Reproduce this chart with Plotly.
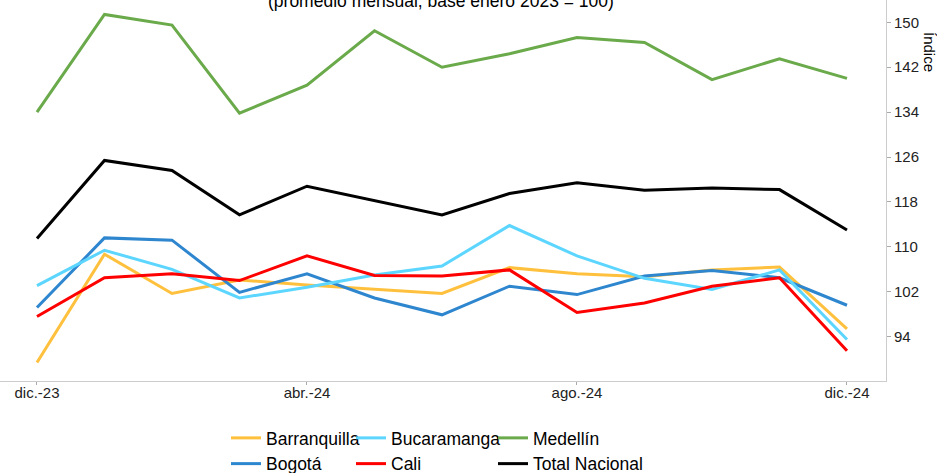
import plotly.graph_objects as go

months = ["dic.-23", "ene.-24", "feb.-24", "mar.-24", "abr.-24", "may.-24", "jun.-24",
          "jul.-24", "ago.-24", "sep.-24", "oct.-24", "nov.-24", "dic.-24"]
tick_labels = ["dic.-23", "abr.-24", "ago.-24", "dic.-24"]
y_ticks = [94, 102, 110, 118, 126, 134, 142, 150]

barranquilla = [89.4, 108.7, 101.7, 104.1, 103.2, 102.5, 101.7, 106.3, 105.2, 104.7, 105.9, 106.4, 95.4]
bogota = [99.2, 111.6, 111.2, 101.9, 105.2, 100.9, 97.9, 103.0, 101.5, 104.8, 105.8, 104.5, 99.6]
bucaramanga = [103.1, 109.4, 106.0, 100.9, 102.8, 105.0, 106.6, 113.8, 108.4, 104.4, 102.4, 105.9, 93.5]
cali = [97.6, 104.5, 105.2, 104.0, 108.4, 104.9, 104.8, 105.9, 98.3, 100.0, 103.0, 104.5, 91.5]
medellin = [134.0, 151.4, 149.5, 133.8, 138.8, 148.5, 142.0, 144.4, 147.3, 146.4, 139.8, 143.5, 140.0]
total_nacional = [111.5, 125.4, 123.6, 115.7, 120.8, 118.3, 115.7, 119.5, 121.4, 120.1, 120.5, 120.2, 113.0]

series = [
    ("Barranquilla", barranquilla, "#FFC13D", "legend"),
    ("Bogotá", bogota, "#2E86CF", "legend"),
    ("Bucaramanga", bucaramanga, "#5CD6FF", "legend2"),
    ("Cali", cali, "#FF0000", "legend2"),
    ("Medellín", medellin, "#6AAA4B", "legend3"),
    ("Total Nacional", total_nacional, "#000000", "legend3"),
]

fig = go.Figure()
for name, vals, color, lg in series:
    fig.add_trace(go.Scatter(
        x=months, y=vals, mode="lines", name=name,
        line=dict(color=color, width=3), legend=lg,
    ))

W, H = 937, 473
ml, mr, mt, mb = 0, 51, 0, 92
pw = W - ml - mr
ph = H - mt - mb

def px_x(x):
    return (x - ml) / pw

def px_y(y):
    return (H - mb - y) / ph

def cont_y(y):
    return 1 - y / H

legend_font = dict(family="Liberation Sans, Arial, sans-serif", size=17.5, color="#000000")
leg_common = dict(orientation="v", xanchor="left", yanchor="top", xref="paper", yref="container",
                  font=legend_font, bgcolor="rgba(0,0,0,0)", tracegroupgap=0)
leg_y = cont_y(420)

fig.update_layout(
    width=W, height=H,
    margin=dict(l=ml, r=mr, t=mt, b=mb, pad=0),
    paper_bgcolor="white", plot_bgcolor="white",
    font=dict(family="Liberation Sans, Arial, sans-serif", color="#333333"),
    showlegend=True,
    legend=dict(x=px_x(226), y=leg_y, **leg_common),
    legend2=dict(x=px_x(351), y=leg_y, **leg_common),
    legend3=dict(x=px_x(493), y=leg_y, **leg_common),
    xaxis=dict(
        type="category", categoryorder="array", categoryarray=months,
        range=[-0.548, 12.578], tickmode="array", tickvals=tick_labels, ticktext=tick_labels,
        showgrid=False, zeroline=False, showline=True, linecolor="#cccccc", linewidth=1,
        ticks="outside", ticklen=3, tickcolor="#aaaaaa", ticklabelstandoff=-5,
        tickfont=dict(size=15, color="#222222"),
    ),
    yaxis=dict(
        side="right", range=[86.11, 153.97], tickmode="array", tickvals=y_ticks,
        showgrid=False, zeroline=False, showline=True, linecolor="#cccccc", linewidth=1,
        ticks="outside", ticklen=4, tickcolor="#aaaaaa",
        tickfont=dict(size=15, color="#222222"),
    ),
    annotations=[
        dict(text="(promedio mensual, base enero 2023 = 100)", xref="paper", yref="paper",
             x=px_x(441), y=px_y(1), xanchor="center", yanchor="middle", showarrow=False,
             font=dict(size=17.5, color="#000000")),
        dict(text="Índice", xref="paper", yref="paper", x=px_x(930), y=px_y(52),
             xanchor="center", yanchor="middle", textangle=90, showarrow=False,
             font=dict(size=15, color="#000000")),
    ],
)

fig.write_html("out.html", config={"displayModeBar": False},
               post_script="document.body.style.margin='0px';document.body.style.overflow='hidden';")
